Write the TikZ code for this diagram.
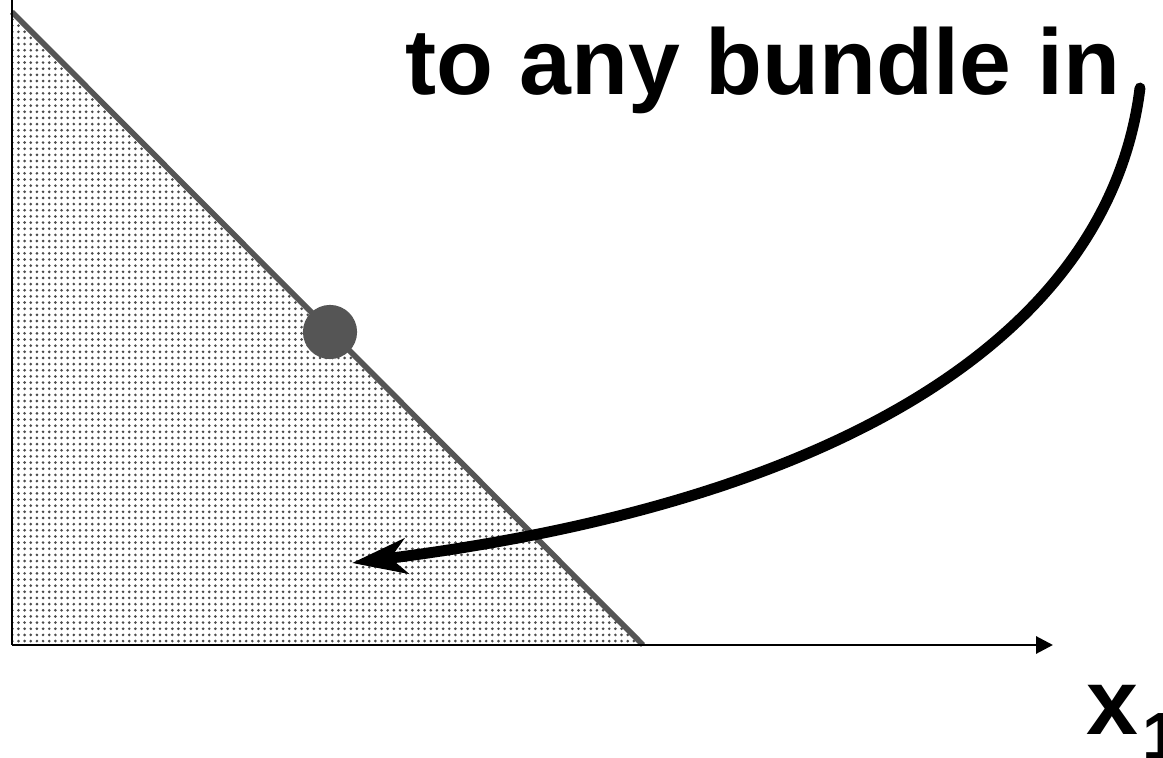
\documentclass[tikz,border=0pt]{standalone}
\usepackage{fontspec}
\setmainfont{Liberation Sans}
\usetikzlibrary{arrows.meta,patterns.meta}
\definecolor{linegray}{HTML}{555555}
\begin{document}
\begin{tikzpicture}[x=0.01cm,y=-0.01cm,
  axis/.style={line width=0.85pt,black},
  budget/.style={line width=1.6pt,linegray},
  bundle/.style={circle,fill=linegray,inner sep=0pt,minimum size=15.4pt},
  label/.style={font=\bfseries\fontsize{26.5}{30}\selectfont,inner sep=0pt}]
  \useasboundingbox (0,0) rectangle (1163,758);
  \clip (0,0) rectangle (1163,758);
  % axes and budget set
  \coordinate (origin) at (12,645);
  \coordinate (ytop) at (12,-10);
  \coordinate (xend) at (1053,645);
  \coordinate (yint) at (12,12);
  \coordinate (xint) at (643,645);
  \fill[pattern={Dots[distance=1.75pt,radius=0.42pt]},pattern color=black!70]
    (origin) -- (yint) -- (xint) -- cycle;
  \draw[budget] (yint) -- (xint);
  \draw[axis] (ytop) -- (origin);
  \draw[axis,-{Triangle[length=4.8pt,width=4.8pt]}] (origin) -- (xend);
  \node[bundle] (pt) at (330,332) {};
  % labels
  \node[label,anchor=base west] (txt) at (405,95) {to any bundle in};
  \node[label,anchor=base west] (xlab) at (1086,735)
    {x\kern1pt\raisebox{-7.1pt}{\fontsize{19}{20}\selectfont 1}};
  % arrow
  \coordinate (start) at (1140,88);
  \coordinate (target) at (352,563);
  \draw[line width=3.1pt,line cap=round,-{Stealth[length=15.5pt,width=10pt,inset=4.5pt]}]
    (start) .. controls (1110,330) and (850,500) .. (target);
\end{tikzpicture}
\end{document}
